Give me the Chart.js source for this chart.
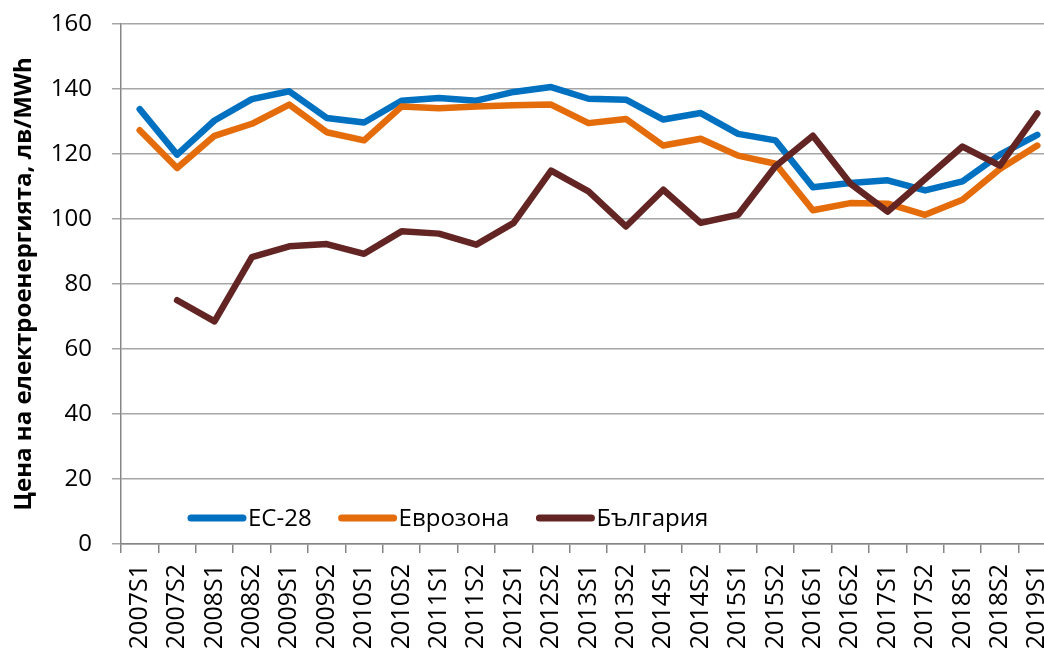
<!DOCTYPE html>
<html>
<head>
<meta charset="utf-8">
<script src="https://cdn.jsdelivr.net/npm/chart.js@4/dist/chart.umd.min.js"></script>
<style>
  html, body { margin: 0; padding: 0; background: #ffffff; overflow: hidden; }
  #wrap { width: 1058px; height: 649px; }
</style>
</head>
<body>
<div id="wrap"><canvas id="c" width="1058" height="649"></canvas></div>
<script>
const categories = ["2007S1","2007S2","2008S1","2008S2","2009S1","2009S2","2010S1","2010S2","2011S1","2011S2","2012S1","2012S2","2013S1","2013S2","2014S1","2014S2","2015S1","2015S2","2016S1","2016S2","2017S1","2017S2","2018S1","2018S2","2019S1"];
const ec28 = [133.8, 119.8, 130.3, 136.9, 139.3, 131.1, 129.7, 136.4, 137.2, 136.4, 139.1, 140.6, 137.0, 136.7, 130.6, 132.6, 126.2, 124.2, 109.8, 111.1, 111.9, 108.8, 111.6, 119.8, 125.9];
const eurozone = [127.3, 115.7, 125.6, 129.3, 135.2, 126.7, 124.2, 134.6, 134.1, 134.6, 135.0, 135.2, 129.5, 130.8, 122.6, 124.7, 119.5, 117.0, 102.7, 104.9, 104.7, 101.3, 105.9, 115.4, 122.6];
const bulgaria = [null, 75.0, 68.5, 88.3, 91.6, 92.3, 89.3, 96.2, 95.5, 92.1, 98.8, 114.9, 108.5, 97.7, 109.0, 98.8, 101.3, 116.2, 125.6, 110.9, 102.3, 112.3, 122.3, 116.4, 132.5];
const seriesNames = ["ЕС-28", "Еврозона", "България"];
const yTitle = "Цена на електроенергията, лв/MWh";
const yMin = 0, yMax = 160, yStep = 20;

const FONT = "'Open Sans', 'DejaVu Sans', sans-serif";

const insideLegend = {
  id: 'insideLegend',
  afterDatasetsDraw(chart) {
    const ctx = chart.ctx;
    const area = chart.chartArea;
    const y = area.bottom - 26;
    let x = area.left + 69;
    ctx.save();
    ctx.font = "24px " + FONT;
    ctx.textBaseline = 'middle';
    ctx.textAlign = 'left';
    chart.data.datasets.forEach(ds => {
      ctx.strokeStyle = ds.borderColor;
      ctx.lineWidth = 7;
      ctx.lineCap = 'round';
      ctx.beginPath();
      ctx.moveTo(x + 1, y);
      ctx.lineTo(x + 53, y);
      ctx.stroke();
      ctx.fillStyle = '#000000';
      ctx.fillText(ds.label, x + 58, y + 1);
      x += 58 + ctx.measureText(ds.label).width + 29;
    });
    ctx.restore();
  }
};

new Chart(document.getElementById('c'), {
  type: 'line',
  data: {
    labels: categories,
    datasets: [
      { label: seriesNames[0], data: ec28, borderColor: '#0070C0', order: 3 },
      { label: seriesNames[1], data: eurozone, borderColor: '#E46C0A', order: 2 },
      { label: seriesNames[2], data: bulgaria, borderColor: '#632523', order: 1 }
    ].map(d => Object.assign(d, {
      borderWidth: 6.5,
      pointRadius: 0,
      pointHoverRadius: 0,
      fill: false,
      tension: 0,
      borderCapStyle: 'round',
      borderJoinStyle: 'round',
      spanGaps: false
    }))
  },
  options: {
    responsive: false,
    maintainAspectRatio: false,
    animation: false,
    devicePixelRatio: 1,
    layout: { padding: { top: 24, right: 2, left: 0, bottom: 0 } },
    plugins: {
      legend: { display: false },
      tooltip: { enabled: false },
      title: { display: false }
    },
    scales: {
      x: {
        type: 'category',
        offset: true,
        afterFit(scale) {
          scale.height = 105;
          scale.paddingLeft = 0;
          scale.paddingRight = 0;
        },
        grid: {
          offset: true,
          drawOnChartArea: false,
          drawTicks: true,
          tickLength: 9,
          color: '#868686',
          lineWidth: 1.5
        },
        border: { display: true, color: '#868686', width: 1.5 },
        ticks: {
          autoSkip: false,
          minRotation: 90,
          maxRotation: 90,
          padding: 11,
          color: '#000000',
          font: { family: FONT, size: 25 }
        }
      },
      y: {
        min: yMin,
        max: yMax,
        afterFit(scale) {
          scale.width = 121;
          scale.paddingTop = 0;
          scale.paddingBottom = 0;
        },
        ticks: {
          stepSize: yStep,
          padding: 20,
          color: '#000000',
          font: { family: FONT, size: 24 }
        },
        grid: {
          drawTicks: true,
          tickLength: 9,
          color: '#a6a6a6',
          lineWidth: 1.5
        },
        border: { display: true, color: '#868686', width: 1.5 },
        title: {
          display: true,
          text: yTitle,
          color: '#000000',
          padding: 0,
          font: { family: FONT, size: 24, weight: 'bold', lineHeight: 2.05 }
        }
      }
    }
  },
  plugins: [insideLegend]
});
</script>
</body>
</html>
